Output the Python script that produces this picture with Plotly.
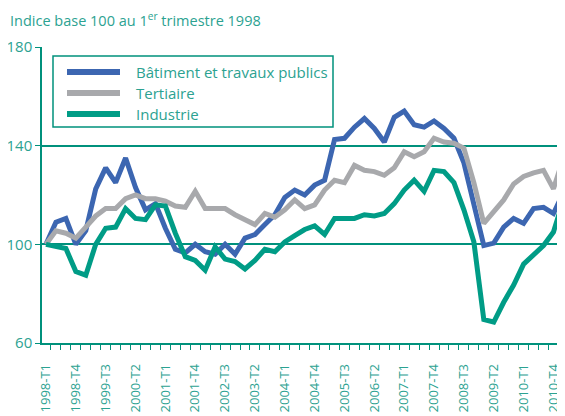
import plotly.graph_objects as go

# Quarters 1998-T1 .. 2011-T1
quarters = [f"{y}-T{q}" for y in range(1998, 2012) for q in range(1, 5)][:53]

batiment = [100, 109, 110.5, 100, 105.5, 122.5, 131, 125, 135, 123, 114, 116.5, 106.5,
            98, 96.5, 100, 97, 96, 100, 96, 102.5, 104, 108, 112, 119, 122, 120,
            124, 126, 142.5, 143, 147.5, 151, 147, 141.5, 151.5, 154, 148.5, 147.5,
            150, 147, 143, 133, 117, 99.5, 100.5, 107, 110.5, 108.5, 114.5, 115, 112.5, 121]

tertiaire = [100, 105.5, 104.5, 102.5, 107, 111.5, 114.5, 114.5, 118.5, 120, 118.5, 118.5, 117.5,
             115.5, 115, 121.5, 114.5, 114.5, 114.5, 112, 110, 108, 112.5, 111, 114, 118, 114.5,
             116, 122, 126, 125, 132, 130, 129.5, 128, 131, 137.5, 135.5, 137.5,
             143, 141.5, 141, 139, 125, 108.5, 113, 118, 124.5, 127.5, 129, 130, 122.5, 135]

industrie = [100, 99.3, 98.3, 89, 87.5, 100, 106.5, 107, 114.5, 110.5, 110, 116, 115.5,
             104.5, 95, 93.5, 89.5, 99, 94, 93, 90, 93.5, 98, 97, 101, 103.5, 106,
             107.5, 104, 110.5, 110.5, 110.5, 112, 111.5, 112.5, 116.5, 122, 126, 121.5,
             130, 129.5, 125, 114, 101, 69.5, 68.5, 76.5, 83.5, 92, 96, 99.5, 105, 118]

series_names = ["Bâtiment et travaux publics", "Tertiaire", "Industrie"]
series_values = [batiment, tertiaire, industrie]
series_colors = ["#3C66B1", "#A8A9AC", "#009C86"]

y_ticks = [60, 100, 140, 180]
tick_labels = quarters[0:52:3]

TEAL = "#00917C"
TEXT = "#2CA291"
FONT = "Open Sans"

# page body has an 8px default margin: figure occupies screen 8..565 x 8..416
OFF = 8
W, H = 565 - OFF, 416 - OFF
ML, MR, MT, MB = 42 - OFF, 0, 47 - OFF, 416 - 343

x_idx = list(range(len(quarters)))

fig = go.Figure()
for name, vals, col in zip(series_names, series_values, series_colors):
    fig.add_trace(go.Scatter(
        x=x_idx, y=vals, mode="lines", name=name,
        line=dict(color=col, width=5), showlegend=False,
        customdata=quarters, hovertemplate="%{customdata}: %{y}<extra>" + name + "</extra>",
    ))

# manual legend (screen pixel -> paper helpers)
pw, ph = W - ML - MR, H - MT - MB
def px(x):
    return (x - OFF - ML) / pw
def py(y):
    return (H - MB - (y - OFF)) / ph

shapes = [dict(type="rect", xref="paper", yref="paper",
               x0=px(53), x1=px(333), y0=py(127), y1=py(56),
               line=dict(color=TEAL, width=1.5), fillcolor="white", layer="above")]
annotations = []
for k, (name, col) in enumerate(zip(series_names, series_colors)):
    yy = 72 + 21 * k
    shapes.append(dict(type="line", xref="paper", yref="paper",
                       x0=px(67), x1=px(120), y0=py(yy), y1=py(yy),
                       line=dict(color=col, width=6), layer="above"))
    annotations.append(dict(xref="paper", yref="paper", x=px(134), y=py(yy),
                            text=name, showarrow=False, xanchor="left", yanchor="middle",
                            font=dict(family=FONT, size=15, color=TEXT)))

annotations.append(dict(xref="paper", yref="paper", x=px(9), y=py(8),
                        text="Indice base 100 au 1<sup>er</sup> trimestre 1998",
                        showarrow=False, xanchor="left", yanchor="top", borderpad=0,
                        font=dict(family=FONT, size=14.5, color=TEXT)))

fig.update_layout(
    width=W, height=H,
    margin=dict(l=ML, r=MR, t=MT, b=MB, autoexpand=False),
    paper_bgcolor="white", plot_bgcolor="white",
    font=dict(family=FONT, color=TEXT),
    shapes=shapes, annotations=annotations,
    xaxis=dict(
        automargin=False,
        range=[-0.4, 52.16], tickmode="array",
        tickvals=[quarters.index(t) for t in tick_labels], ticktext=tick_labels,
        tickangle=-90, ticks="", showgrid=False, zeroline=False,
        showline=True, linecolor=TEAL, linewidth=1.5,
        tickfont=dict(family=FONT, size=13, color=TEXT),
        ticklabelstandoff=14,
        minor=dict(tickmode="linear", tick0=0.5, dtick=1, ticks="outside",
                   ticklen=5, tickcolor=TEAL, tickwidth=1.2, showgrid=False),
    ),
    yaxis=dict(
        automargin=False,
        range=[60, 180], tickmode="array", tickvals=y_ticks,
        ticks="outside", ticklen=5, tickcolor=TEAL, tickwidth=1.2,
        showline=True, linecolor=TEAL, linewidth=1.5,
        showgrid=True, gridcolor=TEAL, gridwidth=1.5, zeroline=False,
        tickfont=dict(family=FONT, size=15, color=TEXT),
    ),
)

fig.write_html("out.html")
